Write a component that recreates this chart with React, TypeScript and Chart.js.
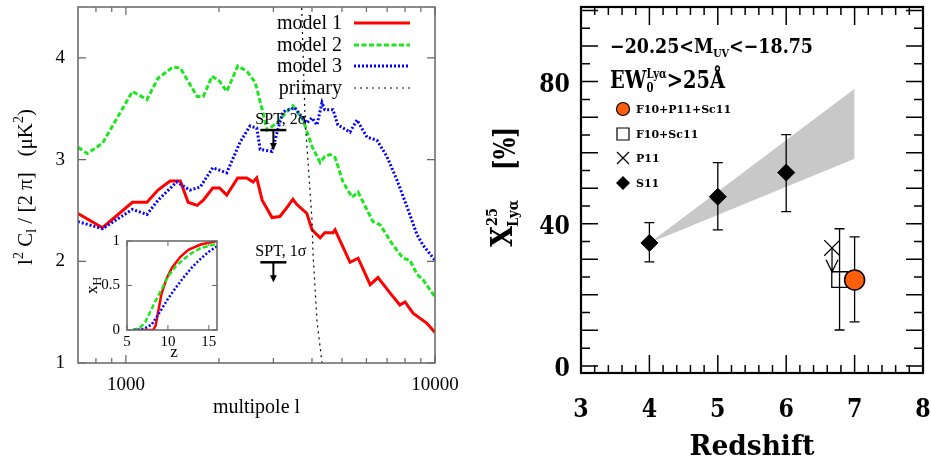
import React, { useEffect, useRef } from 'react';
import { Chart, registerables } from 'chart.js';

Chart.register(...registerables);

const SERIF = '"Liberation Serif", "Times New Roman", serif';
const BSERIF = '"DejaVu Serif", serif';

// ---------------- Left panel data ----------------
const model1L = [700, 840, 1050, 1170, 1270, 1390, 1500, 1590, 1700, 1780, 1910, 2010, 2120, 2300, 2460, 2580, 2650, 2760, 2970, 3150, 3340, 3470, 3570, 3850, 4000, 4250, 4400, 4680, 4750, 5310, 5640, 6170, 6540, 7150, 7700, 8000, 8490, 9420, 10000];
const model1V = [2.47, 2.33, 2.58, 2.58, 2.70, 2.79, 2.79, 2.58, 2.55, 2.60, 2.72, 2.72, 2.65, 2.82, 2.82, 2.78, 2.82, 2.60, 2.43, 2.44, 2.54, 2.61, 2.56, 2.47, 2.31, 2.23, 2.28, 2.28, 2.31, 1.99, 2.03, 1.77, 1.84, 1.69, 1.57, 1.60, 1.49, 1.39, 1.30];

const model2L = [700, 750, 840, 1050, 1170, 1270, 1420, 1500, 1700, 1780, 1900, 2010, 2120, 2300, 2460, 2620, 2760, 2860, 3080, 3270, 3470, 3740, 4000, 4250, 4400, 4570, 4750, 5040, 5390, 5640, 6300, 6640, 7310, 7880, 8300, 8750, 9140, 10000];
const model2V = [3.12, 3.06, 3.16, 3.67, 3.59, 3.80, 3.91, 3.90, 3.62, 3.62, 3.82, 3.77, 3.67, 3.92, 3.87, 3.76, 3.49, 3.29, 3.36, 3.45, 3.53, 3.39, 3.13, 2.97, 3.03, 3.05, 3.02, 2.78, 2.63, 2.68, 2.39, 2.36, 2.16, 2.03, 2.01, 1.87, 1.82, 1.65];

const model3L = [700, 840, 1050, 1170, 1270, 1460, 1610, 1740, 1910, 2120, 2340, 2520, 2650, 2720, 2970, 3080, 3220, 3520, 3660, 3850, 4000, 4150, 4310, 4400, 4680, 4850, 5310, 5590, 6030, 6490, 6990, 7530, 8110, 8750, 9140, 10000];
const model3V = [2.39, 2.32, 2.51, 2.46, 2.60, 2.78, 2.70, 2.73, 2.92, 2.87, 3.17, 3.33, 3.31, 3.10, 3.08, 3.26, 3.47, 3.51, 3.44, 3.36, 3.41, 3.34, 3.56, 3.49, 3.49, 3.34, 3.27, 3.39, 3.22, 3.19, 3.03, 2.80, 2.54, 2.26, 2.16, 2.01];

const primaryL = [3700, 3800, 4000, 4030, 4150, 4310];
const primaryV = [4.55, 3.39, 2.41, 2.08, 1.42, 1.0];

const leftLegend = ['model 1', 'model 2', 'model 3', 'primary'];
const leftXTickLabels = [1000, 10000];
const leftXMinorTicks = [800, 900, 2000, 3000, 4000, 5000, 6000, 7000, 8000, 9000];
const leftYTicks = [1, 2, 3, 4];

const sptL = [3000, 3000];
const sptV = [3.29, 1.99];
const sptText = ['SPT, 2σ', 'SPT, 1σ'];

// ---------------- Inset data ----------------
const insetRedZ = [5.8, 8.2, 8.5, 8.8, 9.2, 9.8, 10.5, 11.5, 12.5, 14, 16];
const insetRedX = [0, 0, 0.05, 0.2, 0.4, 0.57, 0.7, 0.82, 0.9, 0.96, 1.0];
const insetGreenZ = [5.7, 6.5, 7.2, 7.8, 8.5, 9.2, 10, 11, 12, 13, 14, 16];
const insetGreenX = [0, 0.02, 0.08, 0.2, 0.33, 0.45, 0.6, 0.72, 0.8, 0.87, 0.92, 0.97];
const insetBlueZ = [5.8, 7, 8, 9, 10, 11, 12, 13, 14, 15, 16];
const insetBlueX = [0, 0.01, 0.06, 0.2, 0.35, 0.48, 0.6, 0.71, 0.8, 0.88, 0.94];
const insetXTicks = [5, 10, 15];
const insetYTicks = [0, 0.5, 1];

// ---------------- Right panel data ----------------
const bandZ = [4, 7];
const bandLow = [34.6, 58.3];
const bandHigh = [34.6, 78];

const s11Z = [4, 5, 6];
const s11Y = [34.6, 47.6, 54.4];
const s11Lo = [29.3, 38.3, 43.4];
const s11Hi = [40.3, 57.2, 65.1];

const p11Z = [6.67];
const p11Y = [33.2];
const p11LimitTo = [26.5];

const f10sc11Z = [6.78];
const f10sc11Y = [24.3];
const f10sc11Lo = [10.1];
const f10sc11Hi = [38.6];

const allZ = [7.0];
const allY = [24.2];
const allLo = [12.4];
const allHi = [36.3];

const rightXTicks = [3, 4, 5, 6, 7, 8];
const rightYLabels = [0, 40, 80];
const rightLegend = ['F10+P11+Sc11', 'F10+Sc11', 'P11', 'S11'];
const ORANGE = '#ff5f0a';

// ---------------- helpers ----------------
type Seg = { t: string; f: string; dy?: number; stack?: Seg[] };

function segW(ctx: CanvasRenderingContext2D, s: Seg): number {
  if (s.stack) {
    return Math.max(...s.stack.map((p) => { ctx.font = p.f; return ctx.measureText(p.t).width; }));
  }
  ctx.font = s.f;
  return ctx.measureText(s.t).width;
}

function drawRich(ctx: CanvasRenderingContext2D, segs: Seg[], x: number, y: number, align: string, targetW?: number, sx = 1, color = '#000') {
  const ws = segs.map((s) => segW(ctx, s));
  const total = ws.reduce((a, b) => a + b, 0);
  const k = targetW ? targetW / total : sx;
  const W = total * k;
  const x0 = align === 'left' ? x : align === 'center' ? x - W / 2 : x - W;
  ctx.save();
  ctx.translate(x0, y);
  ctx.scale(k, 1);
  ctx.fillStyle = color;
  ctx.textAlign = 'left';
  ctx.textBaseline = 'alphabetic';
  let cx = 0;
  segs.forEach((s, i) => {
    const list = s.stack ? s.stack : [s];
    list.forEach((p) => { ctx.font = p.f; ctx.fillText(p.t, cx, p.dy || 0); });
    cx += ws[i];
  });
  ctx.restore();
}

function pts(xs: number[], ys: number[]) {
  return xs.map((x, i) => ({ x, y: ys[i] }));
}

function fitH(h: number) {
  return (s: any) => { s.height = h; s.paddingLeft = 0; s.paddingRight = 0; s.paddingTop = 0; s.paddingBottom = 0; };
}
function fitW(w: number) {
  return (s: any) => { s.width = w; s.paddingLeft = 0; s.paddingRight = 0; s.paddingTop = 0; s.paddingBottom = 0; };
}

// ---------------- Left chart ----------------
const leftStyles = [
  { color: '#ff0000', dash: [] as number[], width: 3 },
  { color: '#1ee61e', dash: [5, 2.5], width: 3 },
  { color: '#0000ff', dash: [2, 2], width: 3 },
  { color: '#000000', dash: [2, 4], width: 1.2 },
];

const leftDecor = {
  id: 'leftDecor',
  afterDatasetsDraw(chart: any) {
    const ctx: CanvasRenderingContext2D = chart.ctx;
    const xs = chart.scales.x;
    const ys = chart.scales.y;
    ctx.save();
    sptL.forEach((l, i) => {
      const px = xs.getPixelForValue(l);
      const py = ys.getPixelForValue(sptV[i]);
      ctx.strokeStyle = '#000';
      ctx.fillStyle = '#000';
      ctx.lineWidth = 2.5;
      ctx.beginPath();
      ctx.moveTo(px - 13, py);
      ctx.lineTo(px + 13, py);
      ctx.stroke();
      ctx.lineWidth = 2;
      ctx.beginPath();
      ctx.moveTo(px, py);
      ctx.lineTo(px, py + 14);
      ctx.stroke();
      ctx.beginPath();
      ctx.moveTo(px - 3.5, py + 13);
      ctx.lineTo(px + 3.5, py + 13);
      ctx.lineTo(px, py + 20);
      ctx.closePath();
      ctx.fill();
      ctx.font = '16px ' + SERIF;
      ctx.textAlign = 'left';
      ctx.textBaseline = 'alphabetic';
      ctx.fillText(sptText[i], px - 18, py - 6);
    });
    ctx.restore();
  },
  afterDraw(chart: any) {
    const ctx: CanvasRenderingContext2D = chart.ctx;
    const { left, right, top, bottom } = chart.chartArea;
    const xs = chart.scales.x;
    const ys = chart.scales.y;
    ctx.save();
    ctx.strokeStyle = '#666';
    ctx.lineWidth = 1.5;
    ctx.strokeRect(left, top, right - left, bottom - top);
    ctx.lineWidth = 1.2;
    ctx.beginPath();
    leftXTickLabels.forEach((v) => {
      const p = xs.getPixelForValue(v);
      ctx.moveTo(p, bottom); ctx.lineTo(p, bottom - 8);
      ctx.moveTo(p, top); ctx.lineTo(p, top + 8);
    });
    leftXMinorTicks.forEach((v) => {
      const p = xs.getPixelForValue(v);
      ctx.moveTo(p, bottom); ctx.lineTo(p, bottom - 5);
      ctx.moveTo(p, top); ctx.lineTo(p, top + 5);
    });
    leftYTicks.forEach((v) => {
      const p = ys.getPixelForValue(v);
      ctx.moveTo(left, p); ctx.lineTo(left + 8, p);
      ctx.moveTo(right, p); ctx.lineTo(right - 8, p);
    });
    ctx.stroke();

    // legend
    const rowY = [23, 45, 66, 88];
    leftLegend.forEach((name, i) => {
      ctx.font = '20px ' + SERIF;
      ctx.fillStyle = '#000';
      ctx.textAlign = 'right';
      ctx.textBaseline = 'middle';
      ctx.fillText(name, 342, rowY[i] + 1);
      const st = leftStyles[i];
      ctx.strokeStyle = st.color;
      ctx.lineWidth = st.width;
      ctx.setLineDash(st.dash);
      ctx.beginPath();
      ctx.moveTo(354, rowY[i]);
      ctx.lineTo(410, rowY[i]);
      ctx.stroke();
      ctx.setLineDash([]);
    });

    // x title
    ctx.fillStyle = '#000';
    ctx.font = '20px ' + SERIF;
    ctx.textAlign = 'center';
    ctx.textBaseline = 'alphabetic';
    ctx.fillText('multipole l', (left + right) / 2, 413);

    // y title (rotated)
    ctx.translate(32, (top + bottom) / 2 + 2);
    ctx.rotate(-Math.PI / 2);
    const F = '21px ' + SERIF;
    const f = '14px ' + SERIF;
    drawRich(ctx, [
      { t: 'l', f: F },
      { t: '2', f, dy: -9 },
      { t: ' C', f: F },
      { t: 'l', f, dy: 4 },
      { t: ' / [2 π]   (μK', f: F },
      { t: '2', f, dy: -9 },
      { t: ')', f: F },
    ], 0, 0, 'center');
    ctx.restore();
  },
};

// ---------------- Inset chart ----------------
const insetDecor = {
  id: 'insetDecor',
  afterDraw(chart: any) {
    const ctx: CanvasRenderingContext2D = chart.ctx;
    const { left, right, top, bottom } = chart.chartArea;
    const xs = chart.scales.x;
    const ys = chart.scales.y;
    ctx.save();
    ctx.strokeStyle = '#666';
    ctx.lineWidth = 1.5;
    ctx.strokeRect(left, top, right - left, bottom - top);
    ctx.lineWidth = 1;
    ctx.beginPath();
    insetXTicks.forEach((v) => {
      const p = xs.getPixelForValue(v);
      ctx.moveTo(p, bottom); ctx.lineTo(p, bottom - 5);
      ctx.moveTo(p, top); ctx.lineTo(p, top + 5);
    });
    insetYTicks.forEach((v) => {
      const p = ys.getPixelForValue(v);
      ctx.moveTo(left, p); ctx.lineTo(left + 5, p);
      ctx.moveTo(right, p); ctx.lineTo(right - 5, p);
    });
    ctx.stroke();
    ctx.fillStyle = '#000';
    ctx.font = '17px ' + SERIF;
    ctx.textAlign = 'center';
    ctx.textBaseline = 'alphabetic';
    ctx.fillText('z', (left + right) / 2 + 2, 129);
    ctx.translate(17, (top + bottom) / 2);
    ctx.rotate(-Math.PI / 2);
    drawRich(ctx, [
      { t: 'x', f: '17px ' + SERIF },
      { t: 'H', f: '12px ' + SERIF, dy: 4 },
    ], 0, 0, 'center');
    ctx.restore();
  },
};

// ---------------- Right chart ----------------
function errBar(ctx: CanvasRenderingContext2D, xs: any, ys: any, z: number, lo: number, hi: number) {
  const px = xs.getPixelForValue(z);
  const pl = ys.getPixelForValue(lo);
  const ph = ys.getPixelForValue(hi);
  ctx.beginPath();
  ctx.moveTo(px, pl); ctx.lineTo(px, ph);
  ctx.moveTo(px - 5, pl); ctx.lineTo(px + 5, pl);
  ctx.moveTo(px - 5, ph); ctx.lineTo(px + 5, ph);
  ctx.stroke();
}

const rightDecor = {
  id: 'rightDecor',
  beforeDatasetDraw(chart: any, args: any) {
    if (args.index !== 2) return;
    const ctx: CanvasRenderingContext2D = chart.ctx;
    const xs = chart.scales.x;
    const ys = chart.scales.y;
    ctx.save();
    ctx.strokeStyle = '#000';
    ctx.lineWidth = 1.3;
    s11Z.forEach((z, i) => errBar(ctx, xs, ys, z, s11Lo[i], s11Hi[i]));
    f10sc11Z.forEach((z, i) => errBar(ctx, xs, ys, z, f10sc11Lo[i], f10sc11Hi[i]));
    allZ.forEach((z, i) => errBar(ctx, xs, ys, z, allLo[i], allHi[i]));
    // P11 upper-limit arrow
    p11Z.forEach((z, i) => {
      const px = xs.getPixelForValue(z);
      const p0 = ys.getPixelForValue(p11Y[i]);
      const p1 = ys.getPixelForValue(p11LimitTo[i]);
      ctx.beginPath();
      ctx.moveTo(px, p0); ctx.lineTo(px, p1);
      ctx.moveTo(px - 6, p1 - 12); ctx.lineTo(px, p1); ctx.lineTo(px + 6, p1 - 12);
      ctx.stroke();
    });
    ctx.restore();
  },
  afterDraw(chart: any) {
    const ctx: CanvasRenderingContext2D = chart.ctx;
    const { left, right, top, bottom } = chart.chartArea;
    const xs = chart.scales.x;
    const ys = chart.scales.y;
    ctx.save();
    ctx.strokeStyle = '#000';
    ctx.lineWidth = 1.5;
    ctx.beginPath();
    for (let k = 0; k <= 25; k++) {
      const v = 3 + k * 0.2;
      const p = xs.getPixelForValue(v);
      const L = k % 5 === 0 ? 18 : 8;
      ctx.moveTo(p, bottom); ctx.lineTo(p, bottom - L);
      ctx.moveTo(p, top); ctx.lineTo(p, top + L);
    }
    for (let k = 0; k <= 20; k++) {
      const v = k * 5;
      const p = ys.getPixelForValue(v);
      const L = k % 2 === 0 ? 17 : 9;
      ctx.moveTo(left, p); ctx.lineTo(left + L, p);
      ctx.moveTo(right, p); ctx.lineTo(right - L, p);
    }
    ctx.stroke();
    ctx.lineWidth = 2.2;
    ctx.strokeRect(left, top, right - left, bottom - top);

    const TF = 'bold 26px ' + BSERIF;
    rightXTicks.forEach((v) => {
      drawRich(ctx, [{ t: String(v), f: TF }], xs.getPixelForValue(v), 417, 'center', undefined, 0.85);
    });
    rightYLabels.forEach((v) => {
      drawRich(ctx, [{ t: String(v), f: TF }], left - 11, ys.getPixelForValue(v) + 10, 'right', undefined, 0.85);
    });

    // x title
    drawRich(ctx, [{ t: 'Redshift', f: 'bold 27px ' + BSERIF }], (left + right) / 2, 455, 'center', 125);

    // annotation lines
    drawRich(ctx, [
      { t: '−20.25<M', f: 'bold 20px ' + BSERIF },
      { t: 'UV', f: 'bold 11px ' + BSERIF, dy: 4 },
      { t: '<−18.75', f: 'bold 20px ' + BSERIF },
    ], 145, 53, 'left', 203);
    drawRich(ctx, [
      { t: 'EW', f: 'bold 25px ' + BSERIF },
      { t: '', f: 'bold 13px ' + BSERIF, stack: [
        { t: 'Lyα', f: 'bold 13px ' + BSERIF, dy: -10 },
        { t: '0', f: 'bold 13px ' + BSERIF, dy: 4 },
      ] },
      { t: '>25Å', f: 'bold 25px ' + BSERIF },
    ], 145, 88, 'left', 115);

    // legend
    const rows = [109, 134, 158, 183];
    const mx = 158;
    ctx.fillStyle = ORANGE;
    ctx.strokeStyle = '#000';
    ctx.lineWidth = 1.2;
    ctx.beginPath();
    ctx.arc(mx, rows[0], 6.5, 0, Math.PI * 2);
    ctx.fill();
    ctx.stroke();
    ctx.beginPath();
    ctx.rect(mx - 6, rows[1] - 6, 12, 12);
    ctx.stroke();
    ctx.beginPath();
    ctx.moveTo(mx - 6, rows[2] - 6); ctx.lineTo(mx + 6, rows[2] + 6);
    ctx.moveTo(mx + 6, rows[2] - 6); ctx.lineTo(mx - 6, rows[2] + 6);
    ctx.stroke();
    ctx.fillStyle = '#000';
    ctx.beginPath();
    ctx.moveTo(mx, rows[3] - 7); ctx.lineTo(mx + 7, rows[3]); ctx.lineTo(mx, rows[3] + 7); ctx.lineTo(mx - 7, rows[3]);
    ctx.closePath();
    ctx.fill();
    rightLegend.forEach((t, i) => {
      drawRich(ctx, [{ t, f: 'bold 11px ' + BSERIF }], 171, rows[i] + 4, 'left');
    });

    // y title (rotated)
    ctx.translate(41, (top + bottom) / 2);
    ctx.rotate(-Math.PI / 2);
    drawRich(ctx, [{ t: 'X', f: 'bold 30px ' + BSERIF }], -57, 6, 'left', 21);
    drawRich(ctx, [{ t: '25', f: 'bold 15px ' + BSERIF }], -36, -9, 'left', 18);
    drawRich(ctx, [{ t: 'Lyα', f: 'bold 15px ' + BSERIF }], -37, 12, 'left', 27);
    drawRich(ctx, [{ t: '[%]', f: 'bold 30px ' + BSERIF }], 20, 9, 'left', 43);
    ctx.restore();
  },
};

export default function App() {
  const leftRef = useRef<HTMLCanvasElement>(null);
  const insetRef = useRef<HTMLCanvasElement>(null);
  const rightRef = useRef<HTMLCanvasElement>(null);

  useEffect(() => {
    const charts: Chart[] = [];
    const leftSeries = [pts(model1L, model1V), pts(model2L, model2V), pts(model3L, model3V), pts(primaryL, primaryV)];
    charts.push(new Chart(leftRef.current as HTMLCanvasElement, {
      type: 'line',
      data: {
        datasets: leftSeries.map((d, i) => ({
          label: leftLegend[i],
          data: d,
          borderColor: leftStyles[i].color,
          borderWidth: leftStyles[i].width,
          borderDash: leftStyles[i].dash,
          pointRadius: 0,
          tension: 0,
          fill: false,
          order: 3 - i,
        })),
      },
      options: {
        animation: false,
        responsive: false,
        events: [],
        layout: { autoPadding: false, padding: { top: 7, right: 30, left: 0, bottom: 0 } },
        plugins: { legend: { display: false }, tooltip: { enabled: false } },
        scales: {
          x: {
            type: 'logarithmic', min: 700, max: 10000,
            afterFit: fitH(98),
            afterBuildTicks: (s: any) => { s.ticks = leftXTickLabels.map((v) => ({ value: v })); },
            ticks: { autoSkip: false, maxRotation: 0, padding: 11, color: '#000', font: { family: SERIF, size: 19 }, callback: (v: any) => String(v) },
            grid: { display: false, drawTicks: false },
            border: { display: false },
          },
          y: {
            type: 'linear', min: 1, max: 4.5,
            afterFit: fitW(78),
            afterBuildTicks: (s: any) => { s.ticks = leftYTicks.map((v) => ({ value: v })); },
            ticks: { padding: 13, color: '#000', font: { family: SERIF, size: 19 }, callback: (v: any) => String(v) },
            grid: { display: false, drawTicks: false },
            border: { display: false },
          },
        },
      } as any,
      plugins: [leftDecor],
    } as any));

    const insetSeries = [pts(insetRedZ, insetRedX), pts(insetGreenZ, insetGreenX), pts(insetBlueZ, insetBlueX)];
    charts.push(new Chart(insetRef.current as HTMLCanvasElement, {
      type: 'line',
      data: {
        datasets: insetSeries.map((d, i) => ({
          data: d,
          borderColor: leftStyles[i].color,
          borderWidth: 2.5,
          borderDash: leftStyles[i].dash,
          pointRadius: 0,
          tension: 0,
          fill: false,
          order: 3 - i,
        })),
      },
      options: {
        animation: false,
        responsive: false,
        events: [],
        layout: { autoPadding: false, padding: { top: 13, right: 8, left: 0, bottom: 0 } },
        plugins: { legend: { display: false }, tooltip: { enabled: false } },
        scales: {
          x: {
            type: 'linear', min: 5, max: 16,
            afterFit: fitH(33),
            afterBuildTicks: (s: any) => { s.ticks = insetXTicks.map((v) => ({ value: v })); },
            ticks: { padding: 3, color: '#000', font: { family: SERIF, size: 15 }, callback: (v: any) => String(v) },
            grid: { display: false, drawTicks: false },
            border: { display: false },
          },
          y: {
            type: 'linear', min: 0, max: 1,
            afterFit: fitW(47),
            afterBuildTicks: (s: any) => { s.ticks = insetYTicks.map((v) => ({ value: v })); },
            ticks: { padding: 7, color: '#000', font: { family: SERIF, size: 15 }, callback: (v: any) => String(v) },
            grid: { display: false, drawTicks: false },
            border: { display: false },
          },
        },
      } as any,
      plugins: [insetDecor],
    } as any));

    charts.push(new Chart(rightRef.current as HTMLCanvasElement, {
      type: 'scatter',
      data: {
        datasets: [
          { label: 'bandLow', data: pts(bandZ, bandLow), showLine: true, borderWidth: 0, pointRadius: 0, fill: false, order: 10 },
          { label: 'bandHigh', data: pts(bandZ, bandHigh), showLine: true, borderWidth: 0, pointRadius: 0, fill: '-1', backgroundColor: '#c8c8c8', order: 9 },
          { label: 'S11', data: pts(s11Z, s11Y), pointStyle: 'rectRot', pointRadius: 8.5, backgroundColor: '#000', borderColor: '#000', borderWidth: 1, order: 5 },
          { label: 'P11', data: pts(p11Z, p11Y), pointStyle: 'crossRot', pointRadius: 11, borderColor: '#000', borderWidth: 1.3, order: 4 },
          { label: 'F10+Sc11', data: pts(f10sc11Z, f10sc11Y), pointStyle: 'rect', pointRadius: 11, backgroundColor: 'rgba(0,0,0,0)', borderColor: '#000', borderWidth: 1.3, order: 3 },
          { label: 'F10+P11+Sc11', data: pts(allZ, allY), pointStyle: 'circle', pointRadius: 10, backgroundColor: ORANGE, borderColor: '#000', borderWidth: 1.5, order: 2 },
        ],
      },
      options: {
        animation: false,
        responsive: false,
        events: [],
        layout: { autoPadding: false, padding: { top: 7, right: 8, left: 0, bottom: 0 } },
        plugins: { legend: { display: false }, tooltip: { enabled: false }, filler: { drawTime: 'beforeDatasetDraw' } },
        scales: {
          x: {
            type: 'linear', min: 3, max: 8,
            afterFit: fitH(88),
            ticks: { display: false },
            grid: { display: false, drawTicks: false },
            border: { display: false },
          },
          y: {
            type: 'linear', min: -2, max: 101,
            afterFit: fitW(116),
            ticks: { display: false },
            grid: { display: false, drawTicks: false },
            border: { display: false },
          },
        },
      } as any,
      plugins: [rightDecor],
    } as any));

    return () => { charts.forEach((c) => c.destroy()); };
  }, []);

  return (
    <div style={{ position: 'fixed', left: 0, top: 0, width: 931, height: 461, background: '#fff', overflow: 'hidden' }}>
      <canvas ref={leftRef} width={465} height={461} style={{ position: 'absolute', left: 0, top: 0 }} />
      <canvas ref={insetRef} width={145} height={135} style={{ position: 'absolute', left: 80, top: 228 }} />
      <canvas ref={rightRef} width={466} height={461} style={{ position: 'absolute', left: 465, top: 0 }} />
    </div>
  );
}
